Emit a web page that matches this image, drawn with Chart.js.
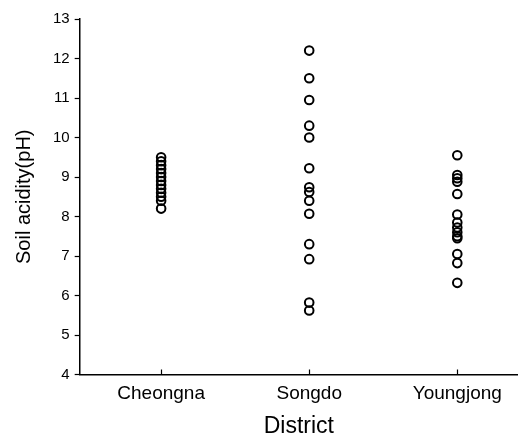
<!DOCTYPE html>
<html><head><meta charset="utf-8">
<script src="https://cdn.jsdelivr.net/npm/chart.js@4/dist/chart.umd.min.js"></script>
<style>html,body{margin:0;padding:0;background:#fff;overflow:hidden}canvas{display:block}</style>
</head><body><canvas id="c" width="518" height="438"></canvas>
<script>
const categories = ["Cheongna", "Songdo", "Youngjong"];
const cheongna = [9.5, 9.4, 9.3, 9.2, 9.1, 9.0, 8.9, 8.8, 8.7, 8.6, 8.5, 8.4, 8.2];
const songdo = [12.2, 11.5, 10.95, 10.3, 10.0, 9.22, 8.74, 8.62, 8.4, 8.07, 7.3, 6.92, 5.82, 5.62];
const youngjong = [9.55, 9.05, 8.97, 8.88, 8.57, 8.05, 7.85, 7.72, 7.6, 7.5, 7.45, 7.05, 6.82, 6.32];
const yTicks = [4, 5, 6, 7, 8, 9, 10, 11, 12, 13];

const groups = [cheongna, songdo, youngjong];
const pts = [];
groups.forEach((g, i) => g.forEach(v => pts.push({x: i + 1, y: v})));

const font = "'Liberation Sans', Arial, Helvetica, sans-serif";
const upTicks = {
  id: 'upTicks',
  afterDraw(chart) {
    const ctx = chart.ctx, xs = chart.scales.x, b = chart.chartArea.bottom;
    ctx.save(); ctx.strokeStyle = '#000'; ctx.lineWidth = 1.2;
    categories.forEach((c, i) => {
      const px = Math.round(xs.getPixelForValue(i + 1)) + 0.5;
      ctx.beginPath(); ctx.moveTo(px, b); ctx.lineTo(px, b - 5); ctx.stroke();
    });
    ctx.restore();
  }
};

new Chart(document.getElementById('c'), {
  type: 'scatter',
  data: { datasets: [{ data: pts, pointStyle: 'circle', pointRadius: 4.3, pointBorderWidth: 2, pointBorderColor: '#000', pointBackgroundColor: 'rgba(0,0,0,0)', clip: false }] },
  options: {
    responsive: false, animation: false,
    layout: { autoPadding: false, padding: { top: 19, right: 0, left: 12, bottom: 0 } },
    plugins: { legend: { display: false }, tooltip: { enabled: false } },
    scales: {
      x: {
        type: 'linear', min: 0.45, max: 3.41,
        afterBuildTicks: s => { s.ticks = categories.map((c, i) => ({ value: i + 1 })); },
        afterFit: s => { s.paddingRight = 0; s.paddingLeft = 0; },
        ticks: { callback: v => categories[v - 1], color: '#000', font: { family: font, size: 19, lineHeight: 1.0 }, padding: 9.5, maxRotation: 0, autoSkip: false },
        grid: { display: true, drawOnChartArea: false, drawTicks: false },
        border: { display: true, color: '#000', width: 1.5 },
        title: { display: true, text: 'District', color: '#000', font: { family: font, size: 23, lineHeight: 1.0 }, padding: { top: 2.5, bottom: 0 } }
      },
      y: {
        min: 4, max: 13,
        afterBuildTicks: s => { s.ticks = yTicks.map(v => ({ value: v })); },
        ticks: { color: '#000', font: { family: font, size: 15 }, padding: 5 },
        grid: { display: true, drawOnChartArea: false, drawTicks: true, tickLength: 5, color: '#000', tickColor: '#000', tickWidth: 1.2 },
        border: { display: true, color: '#000', width: 1.5 },
        title: { display: true, text: 'Soil acidity(pH)', color: '#000', font: { family: font, size: 20 }, padding: { top: 0, bottom: 12 } }
      }
    }
  },
  plugins: [upTicks]
});
</script></body></html>
